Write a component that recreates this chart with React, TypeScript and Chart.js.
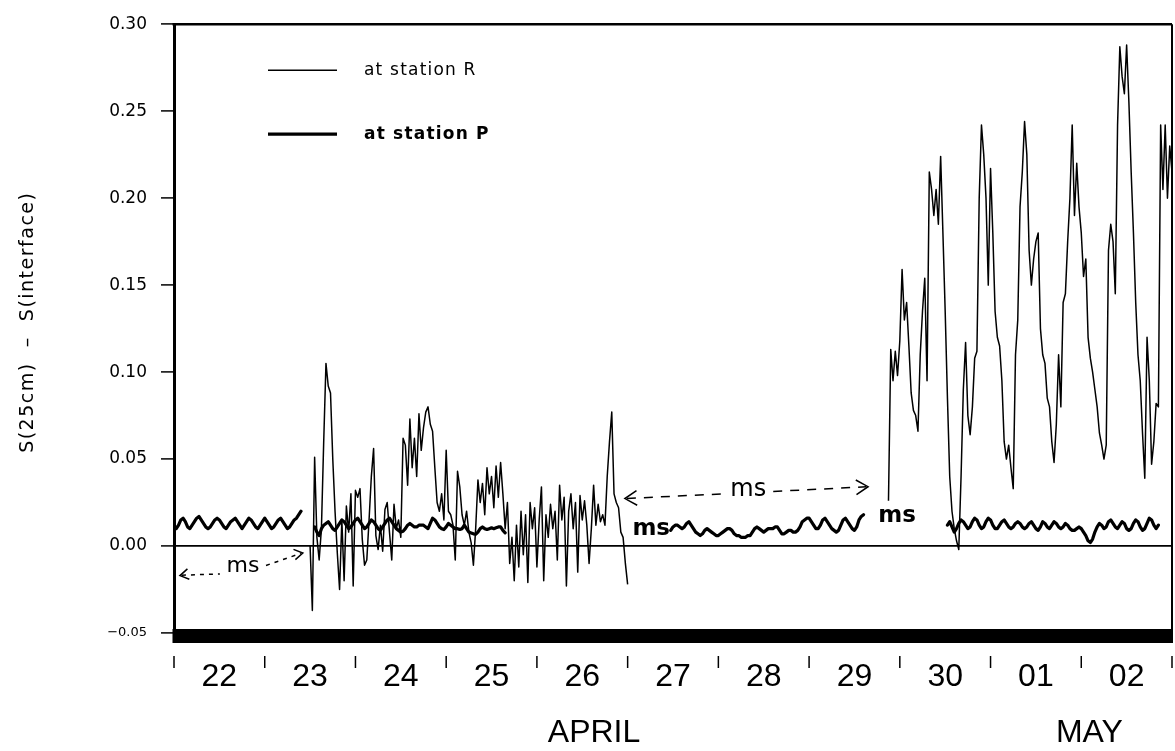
import React, { useEffect, useRef } from 'react';
import { Chart, registerables } from 'chart.js';

Chart.register(...registerables);

// ---------- data ----------
const dayLabels = ['22', '23', '24', '25', '26', '27', '28', '29', '30', '01', '02'];
const monthLabels = ['APRIL', 'MAY'];
const monthDays = [4.63, 10.09];
const legendLabels = ['at station R', 'at station P'];
const yTitle = 'S(25cm)  \u2013  S(interface)';

const SAMPLE_STEP = 0.025; // days between samples

const rSeg1Start = 1.5;
const rSeg1 = [
  0.000, -0.037, 0.051, 0.005, -0.008, 0.010, 0.060, 0.105, 0.092, 0.088,
  0.050, 0.020, -0.004, -0.025, 0.015, -0.020, 0.023, 0.008, 0.030, -0.023,
  0.032, 0.028, 0.033, 0.004, -0.011, -0.008, 0.015, 0.040, 0.056, 0.006,
  -0.002, 0.012, -0.003, 0.021, 0.025, 0.008, -0.008, 0.024, 0.010, 0.015,
  0.005, 0.062, 0.058, 0.035, 0.073, 0.045, 0.062, 0.040, 0.076, 0.055,
  0.068, 0.077, 0.080, 0.070, 0.066, 0.045, 0.025, 0.020, 0.030, 0.015,
  0.055, 0.020, 0.018, 0.012, -0.008, 0.043, 0.034, 0.018, 0.012, 0.020,
  0.008, 0.002, -0.011, 0.010, 0.038, 0.025, 0.036, 0.018, 0.045, 0.030,
  0.040, 0.022, 0.046, 0.028, 0.048, 0.030, 0.010, 0.025, -0.010, 0.005,
  -0.020, 0.012, -0.012, 0.020, -0.005, 0.018, -0.021, 0.025, 0.010, 0.022,
  -0.012, 0.015, 0.034, -0.020, 0.018, 0.005, 0.024, 0.010, 0.020, -0.008,
  0.035, 0.015, 0.028, -0.023, 0.020, 0.030, 0.010, 0.025, -0.015, 0.029,
  0.015, 0.026, 0.012, -0.010, 0.010, 0.035, 0.012, 0.024, 0.014, 0.018,
  0.012, 0.040, 0.060, 0.077, 0.030, 0.025, 0.022, 0.008, 0.005, -0.010,
  -0.022,
];

const rSeg2Start = 7.875;
const rSeg2 = [
  0.026, 0.113, 0.095, 0.112, 0.098, 0.118, 0.159, 0.130, 0.140, 0.115,
  0.088, 0.078, 0.075, 0.066, 0.110, 0.135, 0.154, 0.095, 0.215, 0.205,
  0.190, 0.205, 0.185, 0.224, 0.180, 0.135, 0.085, 0.040, 0.020, 0.010,
  0.003, -0.002, 0.040, 0.090, 0.117, 0.075, 0.064, 0.080, 0.108, 0.112,
  0.200, 0.242, 0.225, 0.200, 0.150, 0.217, 0.180, 0.135, 0.120, 0.115,
  0.095, 0.060, 0.050, 0.058, 0.045, 0.033, 0.110, 0.130, 0.195, 0.215,
  0.244, 0.225, 0.170, 0.150, 0.165, 0.175, 0.180, 0.125, 0.110, 0.105,
  0.085, 0.080, 0.060, 0.048, 0.070, 0.110, 0.080, 0.140, 0.145, 0.175,
  0.200, 0.242, 0.190, 0.220, 0.195, 0.180, 0.155, 0.165, 0.120, 0.108,
  0.100, 0.090, 0.080, 0.065, 0.058, 0.050, 0.058, 0.170, 0.185, 0.175,
  0.145, 0.242, 0.287, 0.270, 0.260, 0.288, 0.255, 0.215, 0.180, 0.140,
  0.110, 0.095, 0.065, 0.039, 0.120, 0.095, 0.047, 0.060, 0.082, 0.080,
  0.242, 0.205, 0.242, 0.200, 0.230, 0.215,
];

const pSeg1Start = 0;
const pSeg1 = [
  0.012, 0.010, 0.012, 0.015, 0.016, 0.014, 0.011, 0.010, 0.012, 0.014,
  0.016, 0.017, 0.015, 0.013, 0.011, 0.010, 0.011, 0.013, 0.015, 0.016,
  0.015, 0.013, 0.011, 0.010, 0.012, 0.014, 0.015, 0.016, 0.014, 0.012,
  0.010, 0.012, 0.014, 0.016, 0.015, 0.013, 0.011, 0.010, 0.012, 0.014,
  0.016, 0.014, 0.012, 0.010, 0.011, 0.013, 0.015, 0.016, 0.014, 0.012,
  0.010, 0.011, 0.013, 0.015, 0.016, 0.018, 0.020,
];

const pSeg2Start = 1.55;
const pSeg2 = [
  0.011, 0.008, 0.006, 0.010, 0.012, 0.013, 0.014, 0.012, 0.010, 0.009,
  0.011, 0.013, 0.015, 0.014, 0.012, 0.010, 0.011, 0.013, 0.015, 0.016,
  0.014, 0.012, 0.010, 0.011, 0.013, 0.015, 0.014, 0.012, 0.010, 0.009,
  0.011, 0.013, 0.015, 0.016, 0.014, 0.012, 0.010, 0.009, 0.008, 0.0085,
  0.010, 0.012, 0.013, 0.012, 0.011, 0.011, 0.012, 0.012, 0.012, 0.011,
  0.010, 0.013, 0.016, 0.015, 0.013, 0.011, 0.010, 0.0095, 0.011, 0.013,
  0.012, 0.011, 0.010, 0.010, 0.0095, 0.010, 0.012, 0.010, 0.008, 0.0075,
  0.007, 0.0068, 0.008, 0.010, 0.011, 0.010, 0.0095, 0.010, 0.0105, 0.010,
  0.0105, 0.011, 0.011, 0.009, 0.0076,
];

const pSeg3Start = 5.475;
const pSeg3 = [
  0.009, 0.011, 0.012, 0.012, 0.011, 0.010, 0.011, 0.013, 0.014, 0.012,
  0.010, 0.008, 0.007, 0.006, 0.007, 0.009, 0.010, 0.009, 0.008, 0.007,
  0.006, 0.006, 0.007, 0.008, 0.009, 0.010, 0.010, 0.009, 0.007, 0.006,
  0.006, 0.005, 0.005, 0.005, 0.006, 0.006, 0.008, 0.010, 0.011, 0.010,
  0.009, 0.008, 0.009, 0.010, 0.010, 0.010, 0.011, 0.011, 0.009, 0.007,
  0.007, 0.008, 0.009, 0.009, 0.008, 0.008, 0.009, 0.011, 0.014, 0.015,
  0.016, 0.016, 0.014, 0.012, 0.010, 0.010, 0.012, 0.015, 0.016, 0.014,
  0.012, 0.010, 0.009, 0.008, 0.009, 0.012, 0.015, 0.016, 0.014, 0.012,
  0.010, 0.009, 0.011, 0.015, 0.017, 0.018,
];

const pSeg4Start = 8.525;
const pSeg4 = [
  0.012, 0.014, 0.011, 0.008, 0.010, 0.013, 0.015, 0.014, 0.012, 0.010,
  0.011, 0.014, 0.016, 0.015, 0.012, 0.010, 0.011, 0.014, 0.016, 0.015,
  0.012, 0.010, 0.010, 0.012, 0.014, 0.015, 0.013, 0.011, 0.010, 0.011,
  0.013, 0.014, 0.013, 0.011, 0.010, 0.011, 0.013, 0.014, 0.012, 0.010,
  0.009, 0.011, 0.014, 0.013, 0.011, 0.010, 0.012, 0.014, 0.013, 0.011,
  0.010, 0.011, 0.013, 0.012, 0.010, 0.009, 0.009, 0.010, 0.011, 0.010,
  0.008, 0.006, 0.003, 0.002, 0.004, 0.008, 0.011, 0.013, 0.012, 0.010,
  0.011, 0.014, 0.015, 0.013, 0.011, 0.010, 0.012, 0.014, 0.013, 0.010,
  0.009, 0.010, 0.013, 0.015, 0.014, 0.011, 0.009, 0.010, 0.013, 0.016,
  0.015, 0.012, 0.010, 0.012,
];

// "ms" (missing) annotations, in data coordinates [day, value]
const msArrowFrom = [[0.066, -0.017], [4.97, 0.0273]];
const msArrowTo = [[1.42, -0.004], [7.65, 0.0341]];
const msArrowLabel = [[0.76, -0.0136], [6.33, 0.0307]];
const msBoldAt = [[5.26, 0.008], [7.97, 0.0153]];

// ---------- helpers ----------
type Seg = { start: number; values: number[] };
function buildSeries(segs: Seg[]) {
  const pts: { x: number; y: number | null }[] = [];
  segs.forEach((s, k) => {
    if (k > 0) pts.push({ x: s.start - SAMPLE_STEP / 2, y: null });
    s.values.forEach((v, i) => pts.push({ x: s.start + i * SAMPLE_STEP, y: v }));
  });
  return pts;
}

const rPoints = buildSeries([
  { start: rSeg1Start, values: rSeg1 },
  { start: rSeg2Start, values: rSeg2 },
]);
const pPoints = buildSeries([
  { start: pSeg1Start, values: pSeg1 },
  { start: pSeg2Start, values: pSeg2 },
  { start: pSeg3Start, values: pSeg3 },
  { start: pSeg4Start, values: pSeg4 },
]);

const SANS = "'DejaVu Sans', 'Liberation Sans', sans-serif";
const AXISF = "'Liberation Sans', 'DejaVu Sans', sans-serif";

function arrowHead(ctx: CanvasRenderingContext2D, tx: number, ty: number, ang: number, len: number) {
  ctx.beginPath();
  ctx.moveTo(tx - len * Math.cos(ang - 0.55), ty - len * Math.sin(ang - 0.55));
  ctx.lineTo(tx, ty);
  ctx.lineTo(tx - len * Math.cos(ang + 0.55), ty - len * Math.sin(ang + 0.55));
  ctx.stroke();
}

const decorPlugin = {
  id: 'decor',
  afterDatasetsDraw(chart: any) {
    const { ctx, chartArea: a, scales } = chart;
    const xs = scales.x;
    const ys = scales.y;
    ctx.save();
    ctx.strokeStyle = '#000';
    ctx.fillStyle = '#000';
    ctx.setLineDash([]);

    // frame: top and right
    ctx.lineWidth = 2.5;
    ctx.beginPath();
    ctx.moveTo(a.left - 1.5, a.top);
    ctx.lineTo(a.right, a.top);
    ctx.stroke();
    ctx.lineWidth = 2;
    ctx.beginPath();
    ctx.moveTo(a.right, a.top);
    ctx.lineTo(a.right, a.bottom + 8);
    ctx.stroke();

    // thick bottom band at -0.05
    const yb = ys.getPixelForValue(-0.05);
    ctx.fillRect(a.left - 1.5, yb - 4, a.right - a.left + 2.5, 14);

    // day boundary tick marks
    ctx.lineWidth = 1.5;
    for (let d = 0; d <= dayLabels.length; d++) {
      const px = xs.getPixelForValue(d);
      ctx.beginPath();
      ctx.moveTo(px, a.bottom + 23);
      ctx.lineTo(px, a.bottom + 35);
      ctx.stroke();
    }

    // month labels
    ctx.font = `32px ${AXISF}`;
    ctx.textAlign = 'center';
    ctx.textBaseline = 'middle';
    monthLabels.forEach((m, i) => {
      ctx.fillText(m, xs.getPixelForValue(monthDays[i]), a.bottom + 100);
    });

    // y title
    ctx.save();
    ctx.translate(a.left - 146, a.top + 298);
    ctx.rotate(-Math.PI / 2);
    ctx.font = `19px ${SANS}`;
    (ctx as any).letterSpacing = '1.5px';
    ctx.fillText(yTitle, 0, 0);
    ctx.restore();

    // legend
    ctx.textAlign = 'left';
    const ly = [a.top + 46, a.top + 110];
    const lw = [1.4, 3.2];
    legendLabels.forEach((t, i) => {
      ctx.lineWidth = lw[i];
      ctx.beginPath();
      ctx.moveTo(a.left + 94, ly[i]);
      ctx.lineTo(a.left + 163, ly[i]);
      ctx.stroke();
      ctx.font = `${i === 1 ? 'bold ' : ''}17px ${SANS}`;
      (ctx as any).letterSpacing = '1.2px';
      ctx.fillText(t, a.left + 190, ly[i]);
    });
    (ctx as any).letterSpacing = '0px';

    // dashed "ms" arrows
    ctx.textAlign = 'center';
    msArrowFrom.forEach((f, i) => {
      const x0 = xs.getPixelForValue(f[0]);
      const y0 = ys.getPixelForValue(f[1]);
      const x1 = xs.getPixelForValue(msArrowTo[i][0]);
      const y1 = ys.getPixelForValue(msArrowTo[i][1]);
      const xl = xs.getPixelForValue(msArrowLabel[i][0]);
      const yl = ys.getPixelForValue(msArrowLabel[i][1]);
      const fs = i === 0 ? 22 : 24;
      ctx.font = `${fs}px ${SANS}`;
      ctx.fillText('ms', xl, yl - 3);
      const w = ctx.measureText('ms').width;
      const L = Math.hypot(x1 - x0, y1 - y0);
      const ux = (x1 - x0) / L;
      const uy = (y1 - y0) / L;
      const gap = w / 2 + 7;
      ctx.lineWidth = 1.5;
      ctx.setLineDash(i === 0 ? [4, 5] : [9, 8]);
      ctx.beginPath();
      ctx.moveTo(x0 + ux * 2, y0 + uy * 2);
      ctx.lineTo(xl - ux * gap, yl - uy * gap);
      ctx.moveTo(xl + ux * gap, yl + uy * gap);
      ctx.lineTo(x1 - ux * 2, y1 - uy * 2);
      ctx.stroke();
      ctx.setLineDash([]);
      const ang = Math.atan2(uy, ux);
      const hl = i === 0 ? 10 : 14;
      arrowHead(ctx, x1, y1, ang, hl);
      arrowHead(ctx, x0, y0, ang + Math.PI, hl);
    });

    // bold "ms" markers
    ctx.font = `bold 23px ${SANS}`;
    msBoldAt.forEach((p) => {
      ctx.fillText('ms', xs.getPixelForValue(p[0]), ys.getPixelForValue(p[1]) - 3);
    });

    ctx.restore();
  },
};

export default function App() {
  const ref = useRef<HTMLCanvasElement>(null);
  useEffect(() => {
    const chart = new Chart(ref.current as HTMLCanvasElement, {
      type: 'line',
      data: {
        datasets: [
          {
            label: legendLabels[0],
            data: rPoints as any,
            borderColor: '#000',
            borderWidth: 1.5,
            pointRadius: 0,
            spanGaps: false,
            tension: 0,
            borderJoinStyle: 'round',
          },
          {
            label: legendLabels[1],
            data: pPoints as any,
            borderColor: '#000',
            borderWidth: 3.2,
            pointRadius: 0,
            spanGaps: false,
            tension: 0,
            borderJoinStyle: 'round',
            borderCapStyle: 'round',
          },
        ],
      },
      options: {
        animation: false,
        responsive: true,
        maintainAspectRatio: false,
        events: [],
        layout: { padding: { top: 17, right: 3, left: 0, bottom: 0 } },
        plugins: { legend: { display: false }, tooltip: { enabled: false } },
        scales: {
          x: {
            type: 'linear',
            position: 'bottom',
            min: 0,
            max: dayLabels.length,
            afterBuildTicks: (s: any) => {
              s.ticks = dayLabels.map((_, i) => ({ value: i + 0.5 }));
            },
            afterFit: (s: any) => {
              s.height = 118;
            },
            ticks: {
              autoSkip: false,
              maxRotation: 0,
              minRotation: 0,
              padding: 25,
              color: '#000',
              font: { family: AXISF, size: 32 },
              callback: (_v: any, i: number) => dayLabels[i],
            },
            grid: { display: false, drawTicks: false },
            border: { display: false },
          },
          y: {
            type: 'linear',
            min: -0.05,
            max: 0.3,
            afterFit: (s: any) => {
              s.width = 174;
            },
            ticks: {
              stepSize: 0.05,
              padding: 14,
              color: '#000',
              font: (c: any) => ({
                family: SANS,
                size: c.tick && c.tick.value < -0.01 ? 13 : 17,
              }),
              callback: (v: any) => {
                const n = Number(v);
                if (Math.abs(n) < 1e-9) return '0.00';
                return n < 0 ? '\u2212' + Math.abs(n).toFixed(2) : n.toFixed(2);
              },
            },
            grid: {
              drawOnChartArea: true,
              color: (c: any) => (c.tick && Math.abs(c.tick.value) < 1e-9 ? '#000' : 'rgba(0,0,0,0)'),
              lineWidth: 1.8,
              tickColor: '#000',
              tickLength: 13,
              tickWidth: 1.5,
            },
            border: { display: true, color: '#000', width: 3 },
          },
        },
      },
      plugins: [decorPlugin],
    });
    return () => chart.destroy();
  }, []);
  return (
    <div style={{ position: 'fixed', left: 0, top: 0, width: 1175, height: 751, background: '#fff' }}>
      <canvas ref={ref} />
    </div>
  );
}
